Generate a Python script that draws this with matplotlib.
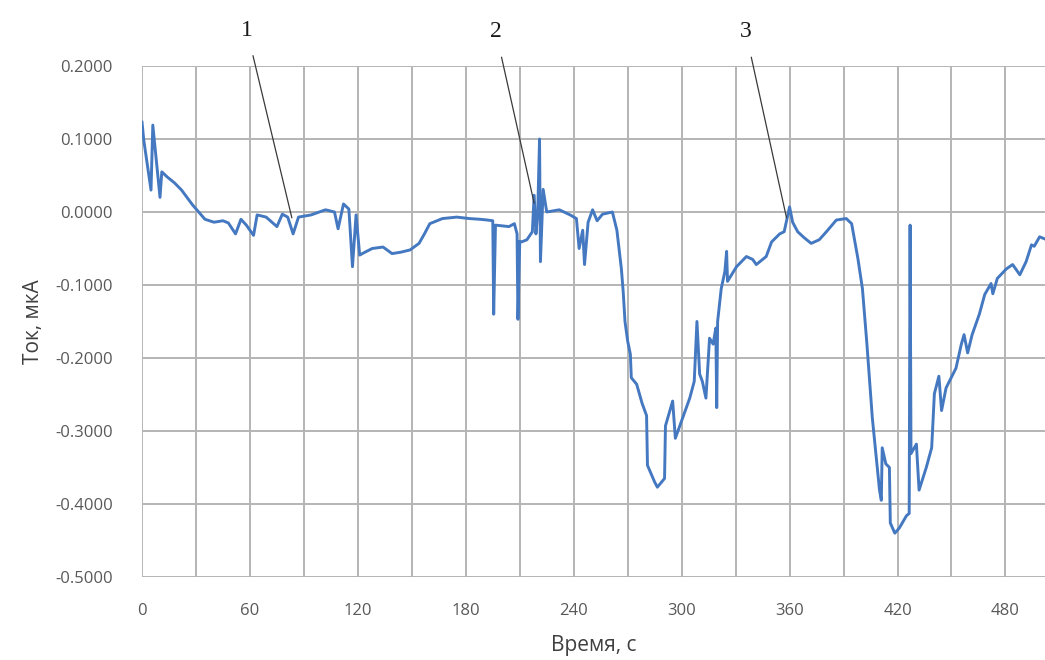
import matplotlib
matplotlib.use("Agg")
import matplotlib.pyplot as plt
from matplotlib.ticker import MultipleLocator, FormatStrFormatter

# Time, s
time_s = [
    0, 1, 5, 6, 10, 11, 14, 18, 22, 28, 35, 40, 45, 48, 52, 55, 58, 62, 64, 69,
    75, 78, 81, 84, 87, 94, 102, 107, 109, 112, 115, 117, 119, 121, 124, 128,
    134, 139, 144, 149, 154, 157, 160, 167, 175, 182, 188, 192, 195, 195.5,
    196.5, 204, 207, 208.5, 209, 210, 211, 214, 217, 218, 219, 220, 221, 221.5,
    223, 225, 232, 238, 241.5, 243, 245, 246, 248, 250.5, 253, 256, 261.5, 264,
    266.5, 267.5, 268.5, 270, 271.5, 272, 275, 278, 280.5, 281, 285, 286.5,
    290.5, 291, 295, 296.5, 300, 304.5, 307, 308.5, 310, 311.5, 313.5, 315.5,
    317.5, 319, 319.5, 320, 322, 324, 325, 325.5, 330.5, 336, 339.5, 341.5,
    347, 350, 354.5, 357, 360, 361.7, 364.5, 368, 372, 376.5, 380.5, 386,
    391.5, 394.5, 398, 400.5, 403, 406, 410, 411, 411.5, 413.5, 415.5, 416,
    418.5, 421, 425, 426.5, 427, 427.5, 430.5, 432, 436, 439, 440.5, 443,
    444.5, 447, 452.5, 455.5, 457, 459, 461.5, 465.5, 468.5, 472, 473, 475.5,
    480.5, 484, 488, 491.5, 494.5, 496, 499, 502,
]

# Current, uA
current_ua = [
    0.123, 0.098, 0.030, 0.119, 0.020, 0.055, 0.048, 0.040, 0.030, 0.010,
    -0.010, -0.014, -0.012, -0.015, -0.030, -0.010, -0.018, -0.032, -0.004,
    -0.007, -0.020, -0.003, -0.007, -0.030, -0.007, -0.004, 0.003, 0.000,
    -0.023, 0.011, 0.004, -0.075, -0.004, -0.059, -0.055, -0.050, -0.048,
    -0.057, -0.055, -0.052, -0.043, -0.030, -0.016, -0.009, -0.007, -0.009,
    -0.010, -0.011, -0.012, -0.140, -0.018, -0.020, -0.016, -0.030, -0.147,
    -0.040, -0.041, -0.038, -0.027, 0.023, -0.030, 0.000, 0.100, -0.068,
    0.031, 0.000, 0.003, -0.004, -0.009, -0.050, -0.025, -0.072, -0.014,
    0.003, -0.012, -0.003, 0.000, -0.025, -0.078, -0.109, -0.150, -0.177,
    -0.195, -0.227, -0.236, -0.262, -0.279, -0.347, -0.370, -0.377, -0.365,
    -0.293, -0.259, -0.310, -0.286, -0.255, -0.232, -0.150, -0.222, -0.232,
    -0.255, -0.173, -0.181, -0.159, -0.268, -0.150, -0.105, -0.082, -0.054,
    -0.095, -0.075, -0.061, -0.065, -0.072, -0.061, -0.041, -0.030, -0.027,
    0.007, -0.014, -0.027, -0.035, -0.043, -0.038, -0.027, -0.011, -0.009,
    -0.016, -0.064, -0.105, -0.181, -0.282, -0.381, -0.395, -0.323, -0.345,
    -0.350, -0.426, -0.440, -0.433, -0.416, -0.413, -0.018, -0.331, -0.318,
    -0.381, -0.350, -0.323, -0.249, -0.225, -0.272, -0.241, -0.214, -0.181,
    -0.168, -0.193, -0.168, -0.140, -0.113, -0.098, -0.112, -0.091, -0.078,
    -0.072, -0.086, -0.068, -0.045, -0.047, -0.034, -0.037,
]

# Numbered markers: (label, label position, pointed-at position)
marker_labels = ["1", "2", "3"]
marker_text_xy = [(58.3, 0.249), (196.7, 0.247), (335.6, 0.247)]
marker_point_xy = [(83.3, -0.008), (218.0, 0.012), (358.3, -0.008)]

x_tick_step = 60
y_tick_step = 0.1

plt.rcParams["font.family"] = ["Open Sans", "DejaVu Sans"]

fig = plt.figure(figsize=(10.45, 6.6), dpi=100)
ax = fig.add_axes([0.1359, 0.1258, 0.8641, 0.7742])

ax.plot(time_s, current_ua, color="#4478c0", linewidth=2.1, zorder=3)

ax.set_xlim(0, 502)
ax.set_ylim(-0.5, 0.2)
ax.xaxis.set_major_locator(MultipleLocator(x_tick_step))
ax.xaxis.set_minor_locator(MultipleLocator(x_tick_step / 2))
ax.yaxis.set_major_locator(MultipleLocator(y_tick_step))
ax.yaxis.set_major_formatter(FormatStrFormatter("%.4f"))

grid_kw = dict(color="#b4b4b4", linewidth=1.4)
ax.grid(True, which="major", axis="both", **grid_kw)
ax.grid(True, which="minor", axis="x", **grid_kw)
ax.set_axisbelow(True)

for side in ["top", "right", "left", "bottom"]:
    ax.spines[side].set_visible(False)

ax.tick_params(axis="both", which="both", length=0, labelcolor="#595959",
               labelsize=12)
ax.tick_params(axis="y", pad=21)
ax.tick_params(axis="x", pad=19)

ax.set_xlabel("Время, с", fontsize=15, color="#404040", labelpad=11)
ax.set_ylabel("Ток, мкА", fontsize=15, color="#404040", labelpad=8)

for label, txy, pxy in zip(marker_labels, marker_text_xy, marker_point_xy):
    ax.annotate(label, xy=pxy, xytext=txy, textcoords="data",
                ha="center", va="center", fontsize=17,
                family="Liberation Serif", color="#1a1a1a",
                annotation_clip=False,
                arrowprops=dict(arrowstyle="-", color="#3a3a3a",
                                linewidth=0.9, shrinkA=9, shrinkB=0))

fig.savefig("out.png", dpi=100)
